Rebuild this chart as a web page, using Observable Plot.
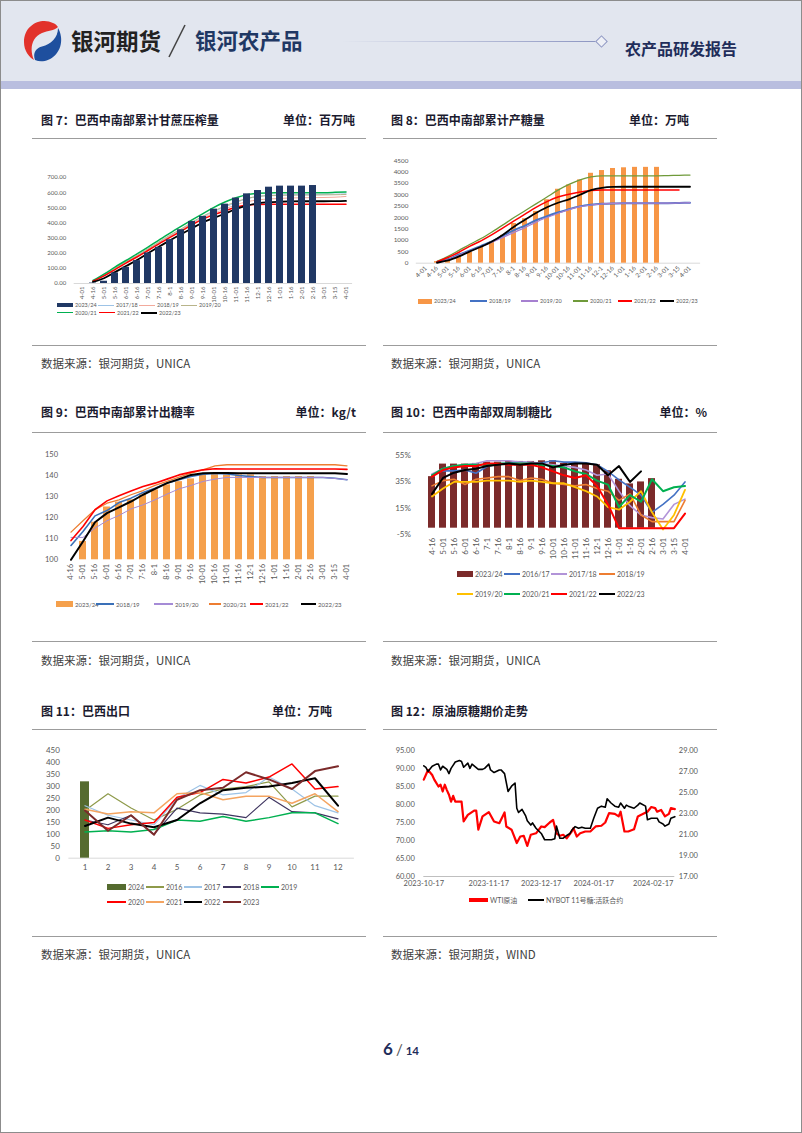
<!DOCTYPE html>
<html><head><meta charset="utf-8">
<script src="https://cdn.jsdelivr.net/npm/d3@7"></script>
<script src="https://cdn.jsdelivr.net/npm/@observablehq/plot@0.6"></script>
<style>
body{margin:0;background:#fff;}
#page{position:relative;width:802px;height:1133px;overflow:hidden;background:#fff;box-sizing:border-box;border:1px solid #8c8c8c;font-family:"Noto Sans CJK SC",sans-serif;}
.abs{position:absolute;white-space:nowrap;}
.title{font-size:12px;font-weight:700;color:#1b1b2f;line-height:16px;}
.src{font-size:11.5px;color:#404040;line-height:16px;}
.rule{position:absolute;height:0;border-top:1.5px solid #9c9c9c;}
.lg{position:absolute;display:flex;align-items:center;font-family:Lato,"Noto Sans CJK SC",sans-serif;color:#595959;white-space:nowrap;}
.lg .sw{display:inline-block;margin-right:2px;}
</style></head>
<body><div id="page"></div>
<script>
// ---------------- DATA ----------------
// Chart 7: cumulative cane crush (百万吨)
const c7Cats = ["4-01","4-16","5-01","5-16","6-01","6-16","7-01","7-16","8-1","8-16","9-01","9-16","10-01","10-16","11-01","11-16","12-1","12-16","1-01","1-16","2-01","2-16","3-01","3-15","4-01"];
const c7_2324 = [null,3,15,70,107,151,202,239,289,355,410,443,491,524,564,592,614,636,643,643,643,647,null,null,null];
const c7_1718 = [null,15,50,95,140,180,225,270,315,355,400,440,475,505,535,560,575,582,585,587,588,588,589,590,592];
const c7_1819 = [null,15,52,95,138,178,222,268,312,352,395,432,465,492,520,540,552,558,562,565,566,567,568,570,575];
const c7_1920 = [null,18,55,100,145,185,230,275,320,360,405,445,480,512,540,562,575,580,582,583,584,584,585,586,588];
const c7_2021 = [null,20,62,108,152,195,240,287,333,377,420,462,503,538,566,587,596,598,599,600,600,600,600,602,605];
const c7_2122 = [null,15,50,92,135,175,218,262,305,345,388,425,455,480,503,518,522,523,523,523,523,523,523,523,523];
const c7_2223 = [null,10,35,75,115,155,200,243,285,325,365,403,433,462,492,515,530,537,540,542,543,543,543,544,545];

// Chart 8: cumulative sugar output (万吨)
const c8Cats = ["4-01","4-16","5-01","5-16","6-01","6-16","7-01","7-16","8-1","8-16","9-01","9-16","10-01","10-16","11-01","11-16","12-1","12-16","1-01","1-16","2-01","2-16","3-01","3-15","4-01"];
const c8_2324 = [null,70,150,290,470,730,950,1220,1740,1950,2270,2780,3240,3430,3650,3940,4060,4150,4180,4200,4200,4200,null,null,null];
const c8_1819 = [null,50,170,380,560,760,960,1200,1450,1650,1880,2060,2220,2370,2490,2560,2600,2620,2630,2630,2630,2630,2630,2640,2650];
const c8_1920 = [null,40,150,350,530,720,920,1130,1350,1560,1800,2000,2180,2350,2480,2550,2600,2620,2630,2630,2630,2630,2630,2640,2650];
const c8_2021 = [null,80,300,560,830,1080,1370,1680,2000,2300,2600,2900,3200,3450,3650,3780,3830,3830,3830,3830,3830,3830,3840,3850,3860];
const c8_2122 = [null,60,250,480,750,980,1250,1550,1850,2150,2450,2700,2900,3020,3120,3190,3210,3210,3210,3210,3210,3210,3210,3210,null];
const c8_2223 = [null,20,120,300,520,720,950,1250,1600,1900,2200,2450,2650,2800,3000,3200,3300,3340,3350,3350,3350,3350,3350,3350,3350];

// Chart 9: cumulative ATR / sugar yield (kg/t)
const c9Cats = ["4-16","5-01","5-16","6-01","6-16","7-01","7-16","8-1","8-16","9-01","9-16","10-01","10-16","11-01","11-16","12-1","12-16","1-01","1-16","2-01","2-16","3-01","3-15","4-01"];
const c9_2324 = [null,108.7,117.8,125,127.3,128.4,130.8,133.1,135.5,137,138.3,140.2,140.5,140.2,140.2,140.2,139.4,139.4,139.4,139.4,139.4,null,null,null];
const c9_1819 = [106.8,113.4,120.8,123.3,127.1,129.2,131.9,133.9,136.3,137.9,139.4,140.5,140.9,140.6,139.9,139.4,139,139,139,139,139,139,138.6,137.9];
const c9_1920 = [110.6,110.6,115,118.5,121,124.1,126,128.4,131.1,133.6,135.2,137.1,138.2,139,139,139,139,139,139,139,139,139,138.5,137.9];
const c9_2021 = [113.1,118.5,123.7,126.8,128.4,130.8,132.8,135.2,137.1,139.1,141,142.6,144.5,145,145,145,145,145,145,145,145,145,145,144.5];
const c9_2122 = [109.1,115.8,123.7,127.9,130.3,132.6,134.7,136.3,138.2,140.2,141.5,142.6,143.1,143,143,143,143,143,143,143,143,143,143,142.8];
const c9_2223 = [100,108.7,117.8,122.1,124.8,127.6,130.8,133.6,136.3,138.2,140.2,141,141.1,141.1,141,141,141,141,141,141,141,141,141,140.6];

// Chart 10: bi-weekly sugar mix (%)
const c10Cats = ["4-16","5-01","5-16","6-01","6-16","7-1","7-16","8-1","8-16","9-1","9-16","10-01","10-16","11-01","11-16","12-1","12-16","1-01","1-16","2-01","2-16","3-01","3-15","4-01"];
const c10_2324 = [39,48.5,48.5,48.5,49,50,50,50.5,50.5,50.5,51,51,49,49,49,48,43.5,37,33.5,35,37.5,null,null,null];
const c10_1617 = [40.4,43.4,43.4,44,41.6,46.7,48.5,49.2,50,49.5,49.5,51,50,50,49.5,48,43,36.6,31,25,12,18,25,35];
const c10_1718 = [41,45,47,48,49,51,51,51,50,50,49,48,47,46,44,40,41,28,17,10,8,7,18,22];
const c10_1819 = [32,36,37,33,37,38,39,39,36,38,37,34,33,32,33,30,28,21,26,10,5,5,5,21];
const c10_1920 = [24,30,35,35,35,36,36,36,35,36,35,34,34,31,28,24,16,14,20,28,12,-1,10,29];
const c10_2021 = [40,45,47,48,48,48,49,49,49,49,48,47,46,43,41,36,33,16,25,20,37,28,31,32];
const c10_2122 = [39,44,46,47,47,49,49,48,48,48,46,43,40,38,40,32,18,0,0,0,0,0,0,11];
const c10_2223 = [26,38,42,44,45,47,48,49,48,49,49,46,48,49,49,48,40,47,35,43,null,null,null,null];

// Chart 11: Brazil sugar exports (万吨)
const c11Months = [1,2,3,4,5,6,7,8,9,10,11,12];
const c11_2024 = [320,null,null,null,null,null,null,null,null,null,null,null];
const c11_2016 = [200,270,210,160,205,265,290,300,320,215,260,260];
const c11_2017 = [220,180,160,140,250,305,265,275,340,290,220,190];
const c11_2018 = [160,140,180,100,210,190,185,170,255,195,190,165];
const c11_2019 = [110,115,110,120,160,155,175,155,170,190,190,145];
const c11_2020 = [160,125,140,150,255,275,330,315,340,395,290,300];
const c11_2021 = [205,185,195,190,270,275,245,260,260,230,270,195];
const c11_2022 = [135,170,145,130,160,230,285,295,300,315,335,220];
const c11_2023 = [200,115,180,98,245,285,295,360,330,290,365,385];

// Chart 12: WTI crude (left axis) and NYBOT No.11 sugar (right axis)
const c12TickDates = ["2023-10-17","2023-11-17","2023-12-17","2024-01-17","2024-02-17"];
const c12EndDate = "2024-02-28";
const wtiDates = ["2023-10-17","2023-10-19","2023-10-21","2023-10-22","2023-10-24","2023-10-25","2023-10-26","2023-10-27","2023-10-28","2023-10-29","2023-10-30","2023-10-31","2023-11-01","2023-11-04","2023-11-05","2023-11-07","2023-11-10","2023-11-11","2023-11-12","2023-11-14","2023-11-17","2023-11-20","2023-11-23","2023-11-26","2023-11-27","2023-11-30","2023-12-03","2023-12-05","2023-12-07","2023-12-09","2023-12-11","2023-12-14","2023-12-17","2023-12-19","2023-12-22","2023-12-24","2023-12-26","2023-12-28","2023-12-30","2024-01-01","2024-01-04","2024-01-05","2024-01-07","2024-01-09","2024-01-12","2024-01-15","2024-01-18","2024-01-21","2024-01-23","2024-01-25","2024-01-28","2024-01-30","2024-01-31","2024-02-02","2024-02-04","2024-02-07","2024-02-09","2024-02-11","2024-02-14","2024-02-16","2024-02-18","2024-02-19","2024-02-21","2024-02-23","2024-02-25","2024-02-26","2024-02-28"];
const wtiVals = [86.9,89.6,88.2,86.9,85,85.5,83.6,85.5,84,82.7,80.8,82.4,80.8,80.8,75.3,77.1,78.3,78.3,73,76.7,77.9,75.3,74.8,77.8,73.9,73,69.3,71.1,71.3,68.5,71.6,72,73.9,73.7,75,75.7,72,71.3,71.6,70.6,72.5,73.4,71.1,72,72.5,72.5,73.9,74.1,75,77.6,77.4,76.7,78,72.5,72.5,73.1,76.7,77.2,78,79.3,79,78,78.5,76.7,77.4,79,78.7];
const sugarDates = ["2023-10-17","2023-10-18","2023-10-19","2023-10-21","2023-10-23","2023-10-24","2023-10-25","2023-10-26","2023-10-28","2023-10-29","2023-10-30","2023-11-01","2023-11-03","2023-11-04","2023-11-05","2023-11-07","2023-11-08","2023-11-09","2023-11-12","2023-11-14","2023-11-15","2023-11-17","2023-11-18","2023-11-20","2023-11-23","2023-11-24","2023-11-26","2023-11-28","2023-11-30","2023-12-02","2023-12-03","2023-12-04","2023-12-06","2023-12-08","2023-12-09","2023-12-11","2023-12-12","2023-12-14","2023-12-17","2023-12-19","2023-12-21","2023-12-23","2023-12-25","2023-12-26","2023-12-28","2023-12-30","2024-01-01","2024-01-03","2024-01-04","2024-01-06","2024-01-08","2024-01-10","2024-01-12","2024-01-15","2024-01-17","2024-01-19","2024-01-21","2024-01-23","2024-01-24","2024-01-26","2024-01-28","2024-01-30","2024-01-31","2024-02-02","2024-02-03","2024-02-04","2024-02-07","2024-02-09","2024-02-10","2024-02-13","2024-02-14","2024-02-16","2024-02-19","2024-02-20","2024-02-22","2024-02-23","2024-02-25","2024-02-26","2024-02-28"];
const sugarVals = [27.54,27.4,27,27.5,27.7,27.7,27.15,27.5,27.2,26.8,27.3,27.9,28.05,27.95,27.4,27.8,27.3,27.7,27.2,27.2,27.3,27.7,27.15,26.9,27.15,27.15,26.8,25.1,25.6,25.9,23.5,23.1,23.4,22.8,22.3,21.9,22.1,21.6,21.1,20.5,20.5,20.5,20.6,21.8,20.65,20.65,20.9,21.1,21.4,21.75,21.6,21.7,21.6,21.6,22.55,23.5,23.7,23.6,24.4,24,23.7,23.6,24,23.5,23.8,23.7,23.5,23.8,24,23.7,22.4,22.55,22.55,22.2,22,21.8,22,22.55,22.7];

// ---------------- PAGE ----------------
const page = document.getElementById("page");
function div(cls, left, top, html, extra) {
  const d = document.createElement("div");
  d.className = cls; d.style.left = left + "px"; d.style.top = top + "px";
  if (html != null) d.innerHTML = html;
  if (extra) Object.assign(d.style, extra);
  page.appendChild(d); return d;
}
function place(el, left, top) {
  el.style.position = "absolute"; el.style.left = left + "px"; el.style.top = top + "px";
  page.appendChild(el);
}

// header
div("abs", 0, 0, "", {width: "802px", height: "80px", background: "#e2e6ef"});
div("abs", 0, 80, "", {width: "802px", height: "8px", background: "#b9bedf"});
div("abs", 19, 17, `<svg width="46" height="44" viewBox="0 0 46 44">
  <path d="M33 5 C22 -1 4 6 4 24 C4 33 9 39 14 42 C9 31 12 19 22 15 C28 12.5 34 13 38 9 C37 7.5 35.5 6 33 5 Z" fill="#e2322b"/>
  <path d="M15 42 C27 47 43 36 41 19 C40.5 15 39 11.5 38 10 C38 20 31 26 22 28.5 C16 30 12.5 35 15 42 Z" fill="#1e4f9e"/>
</svg>`);
div("abs", 70, 23, "银河期货", {fontSize: "22.5px", fontWeight: "700", color: "#222", lineHeight: "32px"});
div("abs", 164, 22, `<svg width="24" height="36"><line x1="4" y1="34" x2="20" y2="2" stroke="#444" stroke-width="1.6"/></svg>`);
div("abs", 194, 23, "银河农产品", {fontSize: "21.5px", fontWeight: "700", color: "#1f3864", lineHeight: "32px"});
div("abs", 340, 39.5, "", {width: "255px", height: "1.5px", background: "linear-gradient(to right, rgba(150,160,200,0), #8d96c2)"});
div("abs", 596, 36, "", {width: "7px", height: "7px", border: "1px solid #8d96c2", transform: "rotate(45deg)", background: "#eef0f6"});
div("abs", 624, 37, "农产品研发报告", {fontSize: "16px", fontWeight: "700", color: "#1f2d5a", lineHeight: "20px"});

// titles, rules, sources
const titles = [
  [40, 111, "图 7：巴西中南部累计甘蔗压榨量", 356, "单位：百万吨"],
  [390, 111, "图 8：巴西中南部累计产糖量", 690, "单位：万吨"],
  [40, 403, "图 9：巴西中南部累计出糖率", 357, "单位：kg/t"],
  [390, 403, "图 10：巴西中南部双周制糖比", 708, "单位：%"],
  [40, 702, "图 11：巴西出口", 333, "单位：万吨"],
  [390, 702, "图 12：原油原糖期价走势", null, null]
];
titles.forEach(([x, y, t, ux, u]) => {
  div("abs title", x, y, t);
  if (u) { const d = div("abs title", 0, y, u); d.style.left = ""; d.style.right = (802 - ux) + "px"; }
});
[[137, 344], [431, 640], [728, 935]].forEach(([a, b]) => {
  div("rule", 31, a, "", {width: "334px"}); div("rule", 382, a, "", {width: "334px"});
  div("rule", 31, b, "", {width: "334px"}); div("rule", 382, b, "", {width: "334px"});
});
[[40, 354, "UNICA"], [390, 354, "UNICA"], [40, 651, "UNICA"], [390, 651, "UNICA"], [40, 945, "UNICA"], [390, 945, "WIND"]]
  .forEach(([x, y, s]) => div("abs src", x, y, "数据来源：银河期货，" + s));
div("abs", 382, 1037, `<span style="font-size:17px;font-weight:700">6</span><span style="font-size:15px;margin:0 3px;color:#555">/</span><span style="font-size:11.5px;font-weight:700">14</span>`, {color: "#1f2d5a", fontFamily: "Lato, 'Noto Sans CJK SC'"});

// legends
function legendRow(top, fontSize, items) {
  items.forEach(it => {
    const d = div("lg", it.x, top - 8, "", {height: "16px", fontSize: fontSize + "px"});
    const sw = document.createElement("span"); sw.className = "sw";
    sw.style.width = it.w + "px"; sw.style.height = it.h + "px"; sw.style.background = it.color;
    d.appendChild(sw);
    d.appendChild(document.createTextNode(it.label));
  });
}

// helpers
const font = "Lato, 'Noto Sans CJK SC', sans-serif";
const series = (vals) => vals.map((v, i) => ({i, v})).filter(d => d.v != null);

// ---------- Chart 7 ----------
{
  const lines = [
    [c7_1718, "#9dc3e6", 1], [c7_1819, "#f2aa9c", 1], [c7_1920, "#b8b48a", 1],
    [c7_2021, "#00b050", 1.5], [c7_2122, "#ff0000", 1.5], [c7_2223, "#000000", 1.8]
  ].map(([v, c, w]) => Plot.line(series(v), {x: "i", y: "v", stroke: c, strokeWidth: w, curve: "monotone-x"}));
  const svg = Plot.plot({
    width: 335, height: 140, marginLeft: 42.7, marginRight: 13.9, marginTop: 11, marginBottom: 23,
    style: {fontFamily: font, fontSize: "6px", color: "#595959", background: "transparent", overflow: "visible"},
    x: {type: "band", domain: d3.range(c7Cats.length), paddingInner: 0.4, paddingOuter: 0.2, tickFormat: i => c7Cats[i], tickRotate: -90, tickSize: 0, tickPadding: 3, label: null},
    y: {domain: [0, 700], ticks: d3.range(0, 701, 100), tickFormat: d => d.toFixed(2), tickSize: 0, tickPadding: 8, label: null},
    marks: [Plot.ruleY([0], {stroke: "#d9d9d9"}), ...lines, Plot.barY(series(c7_2324), {x: "i", y: "v", fill: "#203864"})]
  });
  place(svg, 30, 165);
  legendRow(304, 5.5, [
    {x: 56, w: 16, h: 4, color: "#203864", label: "2023/24"}, {x: 97, w: 16, h: 1, color: "#9dc3e6", label: "2017/18"},
    {x: 138, w: 16, h: 1, color: "#f2aa9c", label: "2018/19"}, {x: 180, w: 16, h: 1, color: "#b8b48a", label: "2019/20"}]);
  legendRow(311.5, 5.5, [
    {x: 56, w: 16, h: 1.5, color: "#00b050", label: "2020/21"}, {x: 98, w: 16, h: 1.5, color: "#ff0000", label: "2021/22"},
    {x: 140, w: 16, h: 2, color: "#000", label: "2022/23"}]);
}

// ---------- Chart 8 ----------
{
  const lines = [
    [c8_1819, "#4472c4", 2], [c8_1920, "#a680d0", 1.2], [c8_2021, "#6f9a3a", 1.3],
    [c8_2122, "#ff0000", 1.5], [c8_2223, "#000000", 1.8]
  ].map(([v, c, w]) => Plot.line(series(v), {x: "i", y: "v", stroke: c, strokeWidth: w, curve: "monotone-x"}));
  const svg = Plot.plot({
    width: 335, height: 140, marginLeft: 33.8, marginRight: 16.9, marginTop: 9, marginBottom: 28.3,
    style: {fontFamily: font, fontSize: "6.3px", color: "#595959", background: "transparent", overflow: "visible"},
    x: {type: "band", domain: d3.range(c8Cats.length), paddingInner: 0.55, paddingOuter: 0.275, tickFormat: i => c8Cats[i], tickRotate: -45, tickSize: 0, tickPadding: 4, label: null},
    y: {domain: [0, 4500], ticks: d3.range(0, 4501, 500), tickSize: 0, tickPadding: 8, label: null, tickFormat: d => String(d)},
    marks: [Plot.ruleY([0], {stroke: "#d9d9d9"}), Plot.barY(series(c8_2324), {x: "i", y: "v", fill: "#f79646"}), ...lines]
  });
  place(svg, 381, 150);
  legendRow(300, 5.5, [
    {x: 417, w: 14, h: 5, color: "#f79646", label: "2023/24"}, {x: 469, w: 17, h: 2, color: "#4472c4", label: "2018/19"},
    {x: 520, w: 17, h: 1.2, color: "#a680d0", label: "2019/20"}, {x: 572, w: 15, h: 1.3, color: "#6f9a3a", label: "2020/21"},
    {x: 617, w: 14, h: 1.5, color: "#ff0000", label: "2021/22"}, {x: 659, w: 14, h: 2, color: "#000", label: "2022/23"}]);
}

// ---------- Chart 9 ----------
{
  const lines = [
    [c9_1819, "#3a70b8", 1.6], [c9_1920, "#a58bd6", 1], [c9_2021, "#ed7d31", 1.3],
    [c9_2122, "#ff0000", 1.6], [c9_2223, "#000000", 2]
  ].map(([v, c, w]) => Plot.line(series(v), {x: "i", y: "v", stroke: c, strokeWidth: w}));
  const svg = Plot.plot({
    width: 335, height: 145, marginLeft: 29.5, marginRight: 9.5, marginTop: 7.7, marginBottom: 31.7,
    style: {fontFamily: font, fontSize: "7.5px", color: "#595959", background: "transparent", overflow: "visible"},
    x: {type: "band", domain: d3.range(c9Cats.length), paddingInner: 0.4, paddingOuter: 0.2, tickFormat: i => c9Cats[i], tickRotate: -90, tickSize: 0, tickPadding: 4, label: null},
    y: {domain: [100, 150], ticks: d3.range(100, 151, 10), tickSize: 0, tickPadding: 3, label: null},
    marks: [Plot.barY(series(c9_2324), {x: "i", y1: () => 100, y2: "v", fill: "#f5a04c"}), ...lines]
  });
  place(svg, 30, 445);
  legendRow(603, 6, [
    {x: 55, w: 17, h: 6, color: "#f5a04c", label: "2023/24"}, {x: 95, w: 18, h: 2, color: "#3a70b8", label: "2018/19"},
    {x: 153, w: 19, h: 1.2, color: "#a58bd6", label: "2019/20"}, {x: 208, w: 12, h: 2, color: "#ed7d31", label: "2020/21"},
    {x: 249, w: 13, h: 2, color: "#ff0000", label: "2021/22"}, {x: 300, w: 15, h: 2.5, color: "#000", label: "2022/23"}]);
}

// ---------- Chart 10 ----------
{
  const lines = [
    [c10_1617, "#4472c4", 1.6], [c10_1718, "#b294d8", 1.6], [c10_1819, "#ed7d31", 1.6], [c10_1920, "#ffc000", 1.8],
    [c10_2021, "#00b050", 2], [c10_2122, "#ff0000", 2], [c10_2223, "#000000", 2]
  ].map(([v, c, w]) => Plot.line(series(v), {x: "i", y: "v", stroke: c, strokeWidth: w}));
  const svg = Plot.plot({
    width: 335, height: 120, marginLeft: 35.4, marginRight: 18.4, marginTop: 9, marginBottom: 31.7,
    style: {fontFamily: font, fontSize: "8px", color: "#595959", background: "transparent", overflow: "visible"},
    x: {type: "band", domain: d3.range(c10Cats.length), paddingInner: 0.38, paddingOuter: 0.19, tickFormat: i => c10Cats[i], tickRotate: -90, tickSize: 0, tickPadding: 3, label: null},
    y: {domain: [-5, 55], ticks: [-5, 15, 35, 55], tickFormat: d => d + "%", tickSize: 0, tickPadding: 7, label: null},
    marks: [Plot.barY(series(c10_2324), {x: "i", y: "v", fill: "#7b2a2a"}), ...lines]
  });
  place(svg, 381, 445);
  const r1 = [["2023/24", "#7b2a2a", 16, 6], ["2016/17", "#4472c4", 16, 2], ["2017/18", "#b294d8", 16, 2], ["2018/19", "#ed7d31", 16, 2]];
  const r2 = [["2019/20", "#ffc000", 16, 2], ["2020/21", "#00b050", 16, 2.5], ["2021/22", "#ff0000", 16, 2.5], ["2022/23", "#000", 16, 2.5]];
  const xs = [456, 503, 550, 598];
  legendRow(573, 7, r1.map(([l, c, w, h], k) => ({x: xs[k], w, h, color: c, label: l})));
  legendRow(593, 7, r2.map(([l, c, w, h], k) => ({x: xs[k], w, h, color: c, label: l})));
}

// ---------- Chart 11 ----------
{
  const ser = (vals) => vals.map((v, i) => ({m: c11Months[i], v})).filter(d => d.v != null);
  const lines = [
    [c11_2016, "#8e9a4a", 1.2], [c11_2017, "#9dc3e6", 1.2], [c11_2018, "#3f3560", 1.2], [c11_2019, "#00b050", 1.5],
    [c11_2020, "#ff0000", 1.5], [c11_2021, "#f4a460", 1.5], [c11_2022, "#000000", 2], [c11_2023, "#7b2a2a", 2]
  ].map(([v, c, w]) => Plot.line(ser(v), {x: "m", y: "v", stroke: c, strokeWidth: w}));
  const svg = Plot.plot({
    width: 335, height: 135, marginLeft: 37.4, marginRight: 12.1, marginTop: 9.3, marginBottom: 18.3,
    style: {fontFamily: font, fontSize: "8px", color: "#595959", background: "transparent", overflow: "visible"},
    x: {type: "band", domain: c11Months, paddingInner: 0.6, paddingOuter: 0.3, tickSize: 0, tickPadding: 6, label: null},
    y: {domain: [0, 450], ticks: d3.range(0, 451, 50), tickSize: 0, tickPadding: 9, label: null},
    marks: [Plot.ruleY([0], {stroke: "#d9d9d9"}), Plot.barY(ser(c11_2024), {x: "m", y: "v", fill: "#556b2f"}), ...lines]
  });
  place(svg, 30, 740);
  legendRow(886, 7, [
    {x: 106, w: 19, h: 6, color: "#556b2f", label: "2024"}, {x: 145, w: 18, h: 1.2, color: "#8e9a4a", label: "2016"},
    {x: 183, w: 18, h: 1.2, color: "#9dc3e6", label: "2017"}, {x: 222, w: 18, h: 1.2, color: "#3f3560", label: "2018"},
    {x: 260, w: 18, h: 2, color: "#00b050", label: "2019"}]);
  legendRow(901, 7, [
    {x: 106, w: 19, h: 2, color: "#ff0000", label: "2020"}, {x: 145, w: 18, h: 2, color: "#f4a460", label: "2021"},
    {x: 183, w: 18, h: 2.5, color: "#000", label: "2022"}, {x: 222, w: 18, h: 2.5, color: "#7b2a2a", label: "2023"}]);
}

// ---------- Chart 12 ----------
{
  const W = 335, ml = 41.3, mr = 42.7;
  const toL = s => 60 + (s - 17) * 35 / 12;
  const toR = v => 17 + (v - 60) * 12 / 35;
  const domain = [...c12TickDates, c12EndDate].map(d => new Date(d));
  const frac = [0, 0.259, 0.468, 0.677, 0.914, 1];
  const wti = wtiDates.map((d, i) => ({d: new Date(d), v: wtiVals[i]}));
  const sug = sugarDates.map((d, i) => ({d: new Date(d), v: toL(sugarVals[i])}));
  const svg = Plot.plot({
    width: W, height: 150, marginLeft: ml, marginRight: mr, marginTop: 9, marginBottom: 15,
    style: {fontFamily: font, fontSize: "7.5px", color: "#595959", background: "transparent", overflow: "visible"},
    x: {type: "utc", domain, range: frac.map(f => ml + f * (W - ml - mr)), axis: null},
    y: {domain: [60, 95], axis: null},
    marks: [
      Plot.ruleY([60], {stroke: "#bfbfbf"}),
      Plot.axisY({anchor: "left", ticks: d3.range(60, 96, 5), tickFormat: d => d.toFixed(2), tickSize: 0, tickPadding: 9, label: null}),
      Plot.axisY({anchor: "right", ticks: d3.range(17, 30, 2).map(toL), tickFormat: v => toR(v).toFixed(2), tickSize: 0, tickPadding: 4, label: null}),
      Plot.axisX({ticks: c12TickDates.map(d => new Date(d)), tickFormat: d3.utcFormat("%Y-%m-%d"), tickSize: 0, tickPadding: 4, label: null}),
      Plot.line(wti, {x: "d", y: "v", stroke: "#ff0000", strokeWidth: 2.2}),
      Plot.line(sug, {x: "d", y: "v", stroke: "#000000", strokeWidth: 1.6})
    ]
  });
  place(svg, 381, 740);
  legendRow(899, 7, [
    {x: 468, w: 19, h: 4, color: "#ff0000", label: "WTI原油"},
    {x: 527, w: 16, h: 2, color: "#000", label: "NYBOT 11号糖:活跃合约"}]);
}
</script>
</body></html>
